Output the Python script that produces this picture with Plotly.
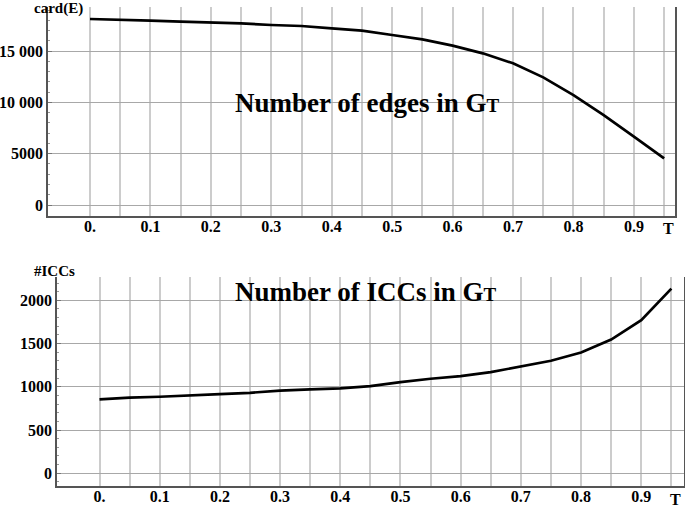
import plotly.graph_objs as go

# threshold values T
t_vals = [0.0, 0.05, 0.1, 0.15, 0.2, 0.25, 0.3, 0.35, 0.4, 0.45,
          0.5, 0.55, 0.6, 0.65, 0.7, 0.75, 0.8, 0.85, 0.9, 0.95]

# card(E): number of edges in G_T
edges = [18130, 18080, 17965, 17880, 17805, 17700, 17545, 17450, 17220, 16990,
         16570, 16150, 15530, 14785, 13810, 12445, 10720, 8770, 6660, 4550]

# number of ICCs in G_T
iccs = [854, 874, 885, 897, 916, 931, 955, 970, 981, 1008,
        1055, 1093, 1124, 1170, 1232, 1301, 1397, 1547, 1771, 2136]

x_tick_vals = [round(0.05 * i, 2) for i in range(20)]
x_tick_text = ['0.' if v == 0 else ('%.1f' % v if i % 2 == 0 else '')
               for i, v in enumerate(x_tick_vals)]

edge_tick_vals = [0, 5000, 10000, 15000]
edge_tick_text = ['0', '5000', '10 000', '15 000']

icc_tick_vals = [0, 500, 1000, 1500, 2000]
icc_tick_text = ['0', '500', '1000', '1500', '2000']

FONT = 'Liberation Serif, Times New Roman, serif'
W, H = 685, 508


# screen pixel -> paper fraction
def px(x):
    return x / W


def py(y):
    return 1 - y / H


tfont = dict(family=FONT, size=16, color='black', weight='bold')

data = [
    go.Scatter(x=t_vals, y=edges, mode='lines', xaxis='x', yaxis='y',
               line=dict(color='black', width=2.7), showlegend=False),
    go.Scatter(x=t_vals, y=iccs, mode='lines', xaxis='x2', yaxis='y2',
               line=dict(color='black', width=2.7), showlegend=False),
]

xcommon = dict(tickvals=x_tick_vals, ticktext=x_tick_text, showgrid=True,
               gridcolor='#cccccc', gridwidth=1.5, zeroline=False,
               showline=True, linecolor='#555555', linewidth=1.5, ticks='',
               automargin=False, ticklabelstandoff=-5, tickfont=tfont)
ycommon = dict(showgrid=True, gridcolor='#a8a8a8', gridwidth=1, zeroline=False,
               showline=True, linecolor='#555555', linewidth=1.5, mirror=True,
               ticks='inside', ticklen=4, tickcolor='#777777',
               automargin=False, tickfont=tfont)


def note(text, x, y, size):
    return dict(text=text, x=px(x), y=py(y), xref='paper', yref='paper',
                xanchor='center', yanchor='middle', showarrow=False,
                font=dict(family=FONT, size=size, color='black'))


layout = go.Layout(
    template='none',
    width=W, height=H,
    margin=dict(l=0, r=0, t=0, b=0),
    plot_bgcolor='white', paper_bgcolor='white',
    xaxis=dict(xcommon, domain=[px(48), px(675)], range=[-0.0695, 0.968],
               anchor='y'),
    yaxis=dict(ycommon, domain=[py(216), py(7)], range=[-1070, 19300],
               tickvals=edge_tick_vals, ticktext=edge_tick_text, anchor='x',
               minor=dict(dtick=1000, ticks='inside', ticklen=2,
                          tickcolor='#999999', showgrid=False)),
    xaxis2=dict(xcommon, domain=[px(57), px(684)], range=[-0.0706, 0.971],
                anchor='y2'),
    yaxis2=dict(ycommon, domain=[py(486), py(277)], range=[-147, 2270],
                tickvals=icc_tick_vals, ticktext=icc_tick_text, anchor='x2',
                minor=dict(dtick=100, ticks='inside', ticklen=2,
                           tickcolor='#999999', showgrid=False)),
    annotations=[
        note("<b>Number of edges in G<span style='font-size:19px'>T</span></b>", 367, 103, 27),
        note("<b>Number of ICCs in G<span style='font-size:19px'>T</span></b>", 366, 292, 27),
        note('<b>card(E)</b>', 58, 9, 15),
        note('<b>#ICCs</b>', 54, 271, 15),
        note('<b>T</b>', 668, 228, 16),
        note('<b>T</b>', 675, 499, 16),
    ],
)

fig = go.Figure(data=data, layout=layout)
# drop the default page margin so the figure sits at the window's corner
fig.write_html('out.html', config={'displayModeBar': False},
               post_script="document.body.style.margin='0';")
